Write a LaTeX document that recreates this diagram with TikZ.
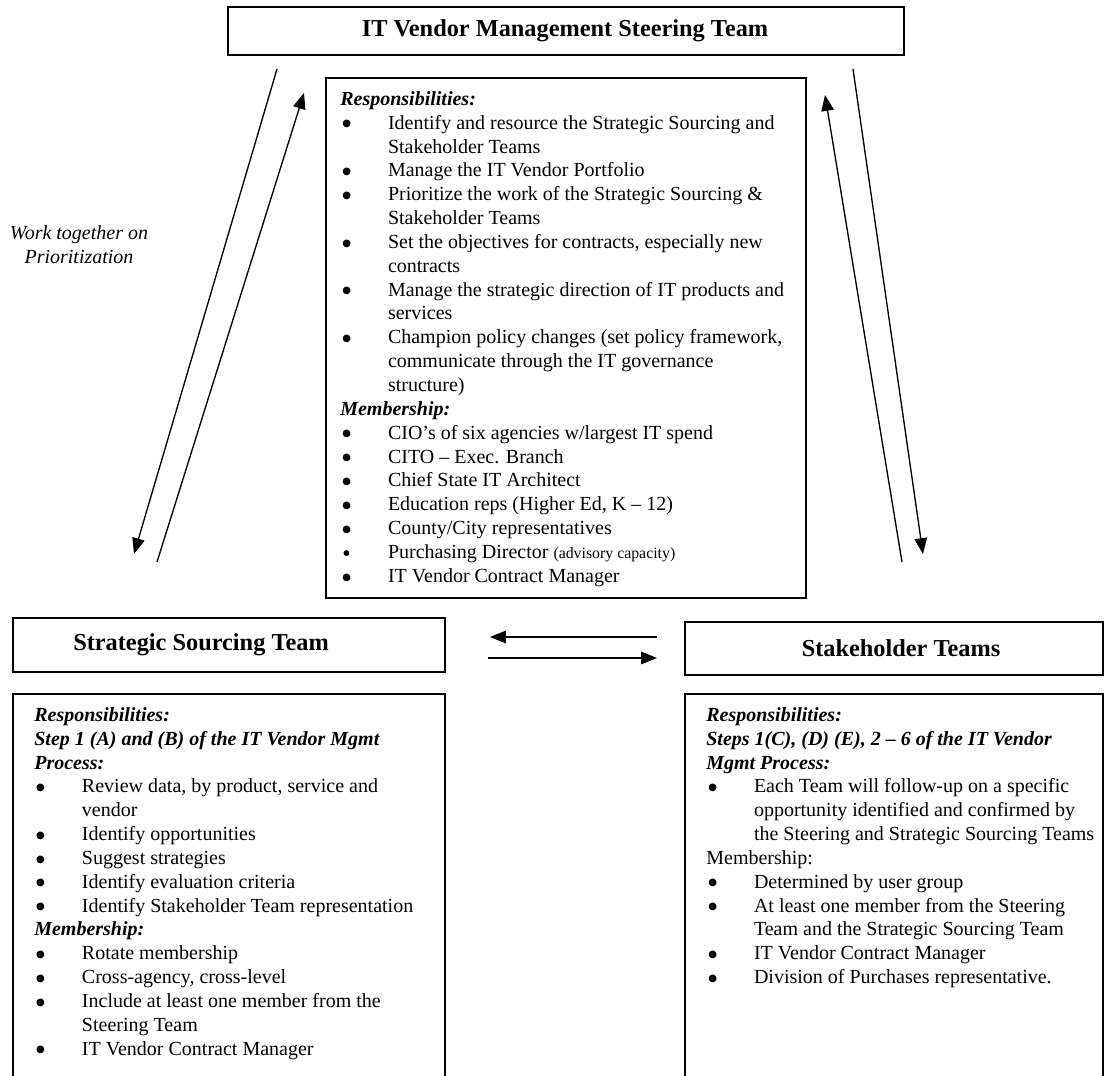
\documentclass[tikz,border=0pt]{standalone}
\usepackage{fontspec}
\usepackage{graphicx}
\setmainfont{Liberation Serif}
\usetikzlibrary{arrows.meta}
\newcommand{\mybul}{\makebox[28.6pt][l]{\hspace{0.4pt}\smash{\raisebox{-3.4pt}{\scalebox{1.6}{\textbullet}}}}}
\newcommand{\myind}{\hspace*{28.6pt}}
\newcommand{\myhd}[1]{\textbf{\textit{#1}}}
\begin{document}
\begin{tikzpicture}[x=0.6pt,y=-0.6pt,
  box/.style={draw, line width=1pt, inner sep=0pt},
  body/.style={anchor=north west, inner sep=0pt, align=left, font=\fontsize{12}{14.31}\selectfont},
  ttl/.style={inner sep=0pt, font=\fontsize{14.6}{16}\selectfont\bfseries},
  arr/.style={line width=0.8pt, -{Triangle[length=9.5pt,width=7.5pt]}}]
\clip (0,0) rectangle (1105,1075);
\fill[white] (0,0) rectangle (1105,1075);

% boxes
\node[box, minimum width=405.6pt, minimum height=28.8pt] (top) at (566,31) {};
\node[ttl] (toptitle) at (565,31) {IT Vendor Management Steering Team};
\node[box, minimum width=288pt, minimum height=312pt] (mid) at (566,338) {};
\node[box, minimum width=259.2pt, minimum height=32.4pt] (sst) at (229,645) {};
\node[ttl] (ssttitle) at (201,645) {Strategic Sourcing Team};
\node[box, minimum width=250.8pt, minimum height=31.8pt] (sh) at (894,648.5) {};
\node[ttl] (shtitle) at (901,648.5) {Stakeholder Teams};
\node[box, minimum width=259.2pt, minimum height=240.6pt] (sstbody) at (229,894.5) {};
\node[box, minimum width=250.8pt, minimum height=240.6pt] (shbody) at (894,894.5) {};

% central text
\node[body] (midtext) at (340,88.3) {\strut\myhd{Responsibilities:}\\
\mybul Identify and resource the Strategic Sourcing and\\
\myind Stakeholder Teams\\
\mybul Manage the IT Vendor Portfolio\\
\mybul Prioritize the work of the Strategic Sourcing \&\\
\myind Stakeholder Teams\\
\mybul Set the objectives for contracts, especially new\\
\myind contracts\\
\mybul Manage the strategic direction of IT products and\\
\myind services\\
\mybul Champion policy changes (set policy framework,\\
\myind communicate through the IT governance\\
\myind structure)\\
\myhd{Membership:}\\
\mybul CIO’s of six agencies w/largest IT spend\\
\mybul CITO – Exec. Branch\\
\mybul Chief State IT Architect\\
\mybul Education reps (Higher Ed, K – 12)\\
\mybul County/City representatives\\
\makebox[28.6pt][l]{\hspace{1.2pt}\smash{\raisebox{-2.1pt}{\scalebox{1.2}{\textbullet}}}}Purchasing Director {\fontsize{9.5}{11}\selectfont(advisory capacity)}\\
\mybul IT Vendor Contract Manager};

% strategic sourcing text
\node[body] (ssttext) at (34,704.3) {\strut\myhd{Responsibilities:}\\
\myhd{Step 1 (A) and (B) of the IT Vendor Mgmt}\\
\myhd{Process:}\\
\mybul Review data, by product, service and\\
\myind vendor\\
\mybul Identify opportunities\\
\mybul Suggest strategies\\
\mybul Identify evaluation criteria\\
\mybul Identify Stakeholder Team representation\\
\myhd{Membership:}\\
\mybul Rotate membership\\
\mybul Cross-agency, cross-level\\
\mybul Include at least one member from the\\
\myind Steering Team\\
\mybul IT Vendor Contract Manager};

% stakeholder text
\node[body] (shtext) at (706,704.3) {\strut\myhd{Responsibilities:}\\
\myhd{Steps 1(C), (D) (E), 2 – 6 of the IT Vendor}\\
\myhd{Mgmt Process:}\\
\mybul Each Team will follow-up on a specific\\
\myind opportunity identified and confirmed by\\
\myind the Steering and Strategic Sourcing Teams\\
Membership:\\
\mybul Determined by user group\\
\mybul At least one member from the Steering\\
\myind Team and the Strategic Sourcing Team\\
\mybul IT Vendor Contract Manager\\
\mybul Division of Purchases representative.};

% label
\node[inner sep=0pt, align=center, font=\fontsize{12}{14.31}\selectfont\itshape] (worklabel) at (79,245) {Work together on\\Prioritization};

% arrow end points
\coordinate (a1) at (277,69);  \coordinate (a2) at (134,554);
\coordinate (b1) at (157,562); \coordinate (b2) at (304,93);
\coordinate (c1) at (902,562); \coordinate (c2) at (825,95);
\coordinate (d1) at (853,69);  \coordinate (d2) at (923,554);
\coordinate (h1) at (657,637); \coordinate (h2) at (490,637);
\coordinate (g1) at (488,658); \coordinate (g2) at (657,658);

\draw[arr] (a1) -- (a2);
\draw[arr] (b1) -- (b2);
\draw[arr] (c1) -- (c2);
\draw[arr] (d1) -- (d2);
\draw[arr] (h1) -- (h2);
\draw[arr] (g1) -- (g2);
\end{tikzpicture}
\end{document}
